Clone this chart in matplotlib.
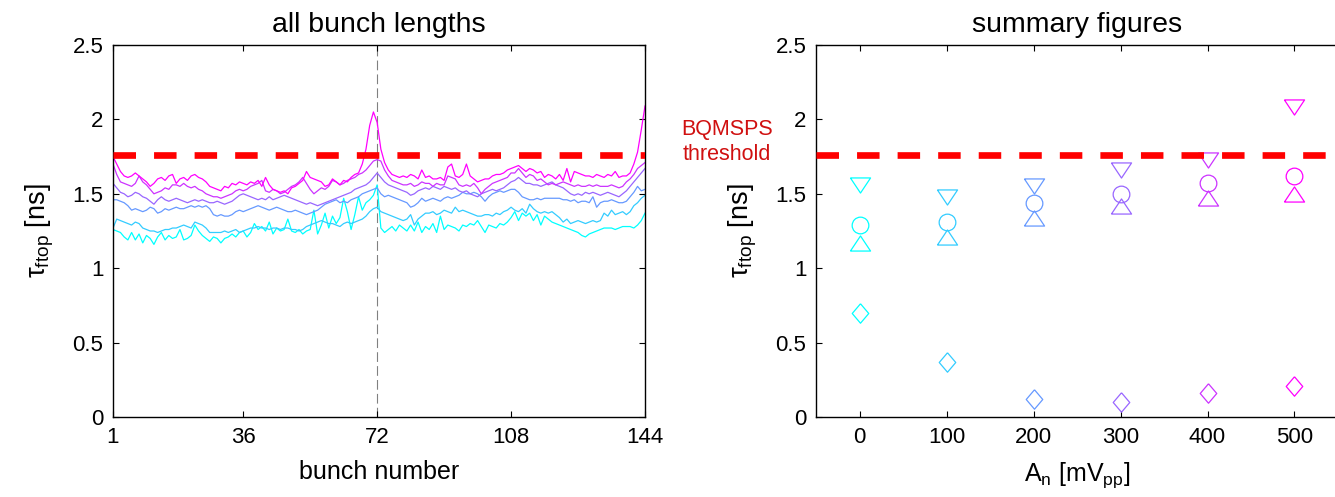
import matplotlib
matplotlib.use("Agg")
import matplotlib.pyplot as plt
import numpy as np

plt.rcParams["font.family"] = ["Liberation Sans", "DejaVu Sans"]
plt.rcParams["mathtext.fontset"] = "custom"
plt.rcParams["mathtext.rm"] = "Liberation Sans"
plt.rcParams["mathtext.it"] = "Liberation Sans:italic"
plt.rcParams["lines.scale_dashes"] = False

# ---- data -------------------------------------------------------------
bunches = np.arange(1, 145)
amplitudes = [0, 100, 200, 300, 400, 500]   # A_n [mV_pp]
threshold = 1.76                             # BQMSPS threshold [ns]

tau_a0 = [
    1.26, 1.25, 1.24, 1.21, 1.19, 1.24, 1.19, 1.23, 1.17, 1.22, 1.20, 1.16,
    1.21, 1.24, 1.19, 1.22, 1.20, 1.21, 1.26, 1.19, 1.20, 1.22, 1.29, 1.25,
    1.22, 1.20, 1.18, 1.21, 1.20, 1.17, 1.20, 1.21, 1.23, 1.21, 1.24, 1.25,
    1.21, 1.24, 1.30, 1.26, 1.28, 1.25, 1.31, 1.23, 1.27, 1.25, 1.26, 1.33,
    1.25, 1.24, 1.26, 1.23, 1.25, 1.26, 1.39, 1.23, 1.29, 1.37, 1.27, 1.35,
    1.30, 1.34, 1.47, 1.38, 1.26, 1.36, 1.48, 1.39, 1.44, 1.46, 1.49, 1.56,
    1.27, 1.24, 1.26, 1.28, 1.25, 1.29, 1.27, 1.25, 1.29, 1.25, 1.31, 1.24,
    1.28, 1.26, 1.30, 1.24, 1.35, 1.26, 1.29, 1.28, 1.27, 1.25, 1.29, 1.28,
    1.30, 1.29, 1.32, 1.28, 1.24, 1.29, 1.28, 1.27, 1.30, 1.29, 1.31, 1.34,
    1.38, 1.32, 1.37, 1.35, 1.37, 1.32, 1.36, 1.29, 1.35, 1.33, 1.31, 1.30,
    1.29, 1.28, 1.27, 1.26, 1.25, 1.24, 1.22, 1.21, 1.23, 1.24, 1.25, 1.26,
    1.27, 1.27, 1.27, 1.26, 1.27, 1.28, 1.28, 1.28, 1.27, 1.29, 1.32, 1.37,
]
tau_a100 = [
    1.27, 1.33, 1.32, 1.31, 1.30, 1.29, 1.31, 1.30, 1.27, 1.26, 1.25, 1.25,
    1.24, 1.25, 1.26, 1.26, 1.27, 1.27, 1.28, 1.29, 1.28, 1.27, 1.31, 1.30,
    1.29, 1.27, 1.24, 1.24, 1.24, 1.24, 1.25, 1.24, 1.25, 1.26, 1.24, 1.25,
    1.26, 1.27, 1.27, 1.28, 1.27, 1.27, 1.26, 1.27, 1.27, 1.26, 1.27, 1.27,
    1.26, 1.26, 1.25, 1.26, 1.28, 1.29, 1.30, 1.31, 1.32, 1.31, 1.30, 1.30,
    1.29, 1.28, 1.30, 1.31, 1.30, 1.31, 1.32, 1.33, 1.35, 1.38, 1.40, 1.41,
    1.38, 1.37, 1.36, 1.35, 1.34, 1.33, 1.32, 1.33, 1.36, 1.29, 1.33, 1.35,
    1.37, 1.37, 1.38, 1.36, 1.37, 1.39, 1.38, 1.37, 1.41, 1.38, 1.39, 1.38,
    1.37, 1.36, 1.35, 1.35, 1.36, 1.36, 1.35, 1.37, 1.36, 1.38, 1.39, 1.41,
    1.39, 1.38, 1.40, 1.37, 1.43, 1.40, 1.38, 1.37, 1.38, 1.37, 1.38, 1.36,
    1.34, 1.31, 1.33, 1.30, 1.31, 1.32, 1.31, 1.30, 1.31, 1.32, 1.31, 1.32,
    1.37, 1.35, 1.39, 1.36, 1.37, 1.38, 1.36, 1.38, 1.42, 1.44, 1.47, 1.49,
]
tau_a200 = [
    1.46, 1.46, 1.45, 1.44, 1.42, 1.39, 1.40, 1.39, 1.38, 1.39, 1.41, 1.40,
    1.37, 1.38, 1.40, 1.39, 1.40, 1.41, 1.40, 1.40, 1.41, 1.42, 1.41, 1.42,
    1.41, 1.42, 1.40, 1.36, 1.35, 1.36, 1.35, 1.35, 1.36, 1.38, 1.39, 1.38,
    1.39, 1.40, 1.41, 1.42, 1.41, 1.40, 1.39, 1.40, 1.41, 1.40, 1.39, 1.38,
    1.38, 1.39, 1.38, 1.37, 1.36, 1.37, 1.38, 1.39, 1.41, 1.43, 1.44, 1.45,
    1.46, 1.44, 1.45, 1.44, 1.46, 1.47, 1.48, 1.50, 1.51, 1.52, 1.53, 1.54,
    1.50, 1.48, 1.49, 1.48, 1.47, 1.46, 1.45, 1.44, 1.41, 1.42, 1.44, 1.47,
    1.45, 1.46, 1.47, 1.46, 1.45, 1.47, 1.48, 1.47, 1.48, 1.49, 1.51, 1.50,
    1.50, 1.51, 1.50, 1.48, 1.45, 1.48, 1.50, 1.51, 1.52, 1.51, 1.52, 1.53,
    1.53, 1.51, 1.48, 1.47, 1.46, 1.46, 1.47, 1.46, 1.47, 1.47, 1.47, 1.47,
    1.47, 1.46, 1.46, 1.45, 1.46, 1.44, 1.45, 1.45, 1.44, 1.48, 1.41, 1.44,
    1.45, 1.45, 1.46, 1.45, 1.44, 1.44, 1.45, 1.48, 1.51, 1.55, 1.52, 1.53,
]
tau_a300 = [
    1.57, 1.54, 1.51, 1.50, 1.48, 1.49, 1.51, 1.50, 1.48, 1.47, 1.45, 1.43,
    1.46, 1.48, 1.46, 1.45, 1.46, 1.47, 1.46, 1.45, 1.44, 1.45, 1.46, 1.45,
    1.46, 1.45, 1.44, 1.44, 1.45, 1.44, 1.43, 1.44, 1.45, 1.47, 1.49, 1.50,
    1.49, 1.48, 1.47, 1.46, 1.47, 1.46, 1.48, 1.46, 1.47, 1.48, 1.49, 1.48,
    1.47, 1.46, 1.45, 1.44, 1.43, 1.44, 1.43, 1.42, 1.43, 1.44, 1.45, 1.46,
    1.47, 1.48, 1.49, 1.50, 1.51, 1.53, 1.54, 1.55, 1.56, 1.58, 1.61, 1.64,
    1.61, 1.58, 1.56, 1.55, 1.54, 1.53, 1.52, 1.51, 1.49, 1.50, 1.52, 1.53,
    1.54, 1.53, 1.55, 1.54, 1.53, 1.55, 1.54, 1.53, 1.54, 1.52, 1.51, 1.52,
    1.50, 1.49, 1.48, 1.50, 1.51, 1.52, 1.53, 1.52, 1.53, 1.54, 1.56, 1.58,
    1.59, 1.61, 1.59, 1.57, 1.57, 1.56, 1.56, 1.55, 1.56, 1.57, 1.58, 1.56,
    1.55, 1.54, 1.52, 1.50, 1.49, 1.50, 1.49, 1.51, 1.50, 1.51, 1.50, 1.49,
    1.50, 1.51, 1.50, 1.49, 1.48, 1.50, 1.52, 1.55, 1.58, 1.61, 1.64, 1.67,
]
tau_a400 = [
    1.70, 1.63, 1.58, 1.57, 1.56, 1.55, 1.57, 1.62, 1.58, 1.56, 1.53, 1.50,
    1.51, 1.52, 1.54, 1.53, 1.56, 1.56, 1.55, 1.57, 1.55, 1.54, 1.55, 1.53,
    1.52, 1.50, 1.49, 1.48, 1.48, 1.47, 1.48, 1.49, 1.50, 1.52, 1.53, 1.52,
    1.53, 1.55, 1.56, 1.57, 1.59, 1.52, 1.51, 1.53, 1.52, 1.50, 1.51, 1.53,
    1.55, 1.56, 1.58, 1.61, 1.57, 1.53, 1.50, 1.52, 1.54, 1.53, 1.55, 1.59,
    1.58, 1.56, 1.57, 1.59, 1.60, 1.61, 1.63, 1.64, 1.66, 1.69, 1.72, 1.73,
    1.72, 1.66, 1.62, 1.59, 1.58, 1.57, 1.56, 1.56, 1.57, 1.55, 1.56, 1.58,
    1.57, 1.57, 1.55, 1.57, 1.56, 1.56, 1.62, 1.61, 1.60, 1.56, 1.55, 1.56,
    1.55, 1.57, 1.54, 1.50, 1.53, 1.55, 1.57, 1.58, 1.59, 1.60, 1.61, 1.64,
    1.64, 1.67, 1.64, 1.61, 1.63, 1.62, 1.59, 1.60, 1.58, 1.56, 1.57, 1.56,
    1.57, 1.58, 1.57, 1.56, 1.55, 1.56, 1.55, 1.55, 1.56, 1.55, 1.56, 1.55,
    1.55, 1.55, 1.56, 1.55, 1.54, 1.55, 1.58, 1.60, 1.63, 1.67, 1.69, 1.71,
]
tau_a500 = [
    1.75, 1.70, 1.65, 1.62, 1.61, 1.62, 1.64, 1.62, 1.60, 1.58, 1.55, 1.57,
    1.60, 1.61, 1.59, 1.62, 1.63, 1.57, 1.60, 1.61, 1.59, 1.62, 1.63, 1.61,
    1.60, 1.58, 1.55, 1.54, 1.53, 1.52, 1.55, 1.54, 1.57, 1.56, 1.58, 1.57,
    1.56, 1.58, 1.57, 1.59, 1.55, 1.61, 1.56, 1.53, 1.52, 1.51, 1.52, 1.50,
    1.54, 1.55, 1.57, 1.59, 1.65, 1.61, 1.60, 1.59, 1.58, 1.55, 1.56, 1.60,
    1.58, 1.56, 1.59, 1.58, 1.61, 1.63, 1.64, 1.70, 1.80, 1.96, 2.05, 1.98,
    1.80, 1.71, 1.66, 1.63, 1.62, 1.61, 1.62, 1.61, 1.63, 1.62, 1.60, 1.66,
    1.61, 1.62, 1.60, 1.60, 1.61, 1.59, 1.68, 1.70, 1.62, 1.61, 1.63, 1.70,
    1.62, 1.60, 1.58, 1.59, 1.60, 1.60, 1.62, 1.63, 1.63, 1.64, 1.66, 1.67,
    1.68, 1.69, 1.67, 1.65, 1.67, 1.66, 1.64, 1.65, 1.61, 1.63, 1.62, 1.60,
    1.63, 1.59, 1.67, 1.58, 1.65, 1.64, 1.63, 1.62, 1.62, 1.61, 1.63, 1.62,
    1.61, 1.63, 1.62, 1.65, 1.61, 1.62, 1.62, 1.64, 1.70, 1.78, 1.93, 2.09,
]
all_tau = [tau_a0, tau_a100, tau_a200, tau_a300, tau_a400, tau_a500]

# summary per amplitude
tau_max = [1.56, 1.48, 1.55, 1.66, 1.73, 2.08]
tau_mean = [1.29, 1.31, 1.44, 1.50, 1.57, 1.62]
tau_min = [1.17, 1.21, 1.34, 1.42, 1.47, 1.50]
tau_spread = [0.70, 0.37, 0.12, 0.10, 0.16, 0.21]

# matlab "cool" colormap, one colour per amplitude
colors = [(i / 5, 1 - i / 5, 1.0) for i in range(6)]

# wide, flat triangles and a diamond like the matlab markers
tri_down = [(-1, 0.75), (1, 0.75), (0, -0.75), (-1, 0.75)]
tri_up = [(-1, -0.75), (1, -0.75), (0, 0.75), (-1, -0.75)]
diamond = [(0, 1), (0.85, 0), (0, -1), (-0.85, 0), (0, 1)]

W, H = 1335, 497
fig = plt.figure(figsize=(W / 100, H / 100), dpi=100)
ax1 = fig.add_axes([113 / W, 80 / H, 532 / W, 372 / H])
ax2 = fig.add_axes([816 / W, 80 / H, 522 / W, 372 / H])

tick_fs = 16
label_fs = 18
title_fs = 20.5


def style_axes(ax, right=True):
    ax.tick_params(direction="in", length=4, width=0.8, labelsize=tick_fs,
                   pad=7, top=True, right=right)
    for s in ax.spines.values():
        s.set_linewidth(1.0)
    ax.set_ylim(0, 2.5)
    ax.set_yticks([0, 0.5, 1, 1.5, 2, 2.5])
    ax.set_yticklabels(["0", "0.5", "1", "1.5", "2", "2.5"])


# ---- left: all bunch lengths -------------------------------------------
for tau, c in zip(all_tau, colors):
    ax1.plot(bunches, tau, color=c, linewidth=0.9, zorder=2)
ax1.plot([72, 72], [0, 2.5], color="0.5", linewidth=0.8,
         dashes=(7, 3), zorder=1)
ax1.plot([1, 144], [threshold, threshold], color="red", linewidth=4.8,
         dashes=(16.2, 13), solid_capstyle="butt", dash_capstyle="butt",
         zorder=3)
ax1.set_xlim(1, 144)
ax1.set_xticks([1, 36, 72, 108, 144])
style_axes(ax1)
ax1.set_xlabel("bunch number", fontsize=label_fs, labelpad=9)
ax1.set_ylabel(r"τ$_{\mathrm{ftop}}$ [ns]", fontsize=19.5, labelpad=12)
ax1.set_title("all bunch lengths", fontsize=title_fs, pad=9)

# ---- right: summary figures --------------------------------------------
for i, a in enumerate(amplitudes):
    c = colors[i]
    kw = dict(linestyle="none", markerfacecolor="none", markeredgecolor=c,
              markeredgewidth=0.9, zorder=2)
    ax2.plot(a, tau_max[i], marker=tri_down, markersize=14.5, **kw)
    ax2.plot(a, tau_mean[i], marker="o", markersize=12, **kw)
    ax2.plot(a, tau_min[i], marker=tri_up, markersize=14.5, **kw)
    ax2.plot(a, tau_spread[i], marker=diamond, markersize=14, **kw)
ax2.plot([-50, 550], [threshold, threshold], color="red", linewidth=4.8,
         dashes=(16.2, 13), solid_capstyle="butt", dash_capstyle="butt",
         zorder=3)
ax2.set_xlim(-50, 550)
ax2.set_xticks(amplitudes)
style_axes(ax2, right=False)
ax2.spines["right"].set_visible(False)
ax2.set_xlabel(r"A$_{\mathrm{n}}$ [mV$_{\mathrm{pp}}$]", fontsize=label_fs,
               labelpad=9)
ax2.set_ylabel(r"τ$_{\mathrm{ftop}}$ [ns]", fontsize=19.5, labelpad=12)
ax2.set_title("summary figures", fontsize=title_fs, pad=9)

fig.text(727 / W, 1 - 142 / H, "BQMSPS\nthreshold", color="#d01010",
         fontsize=15.5, ha="center", va="center", linespacing=1.2)

fig.savefig("out.png", dpi=100)
